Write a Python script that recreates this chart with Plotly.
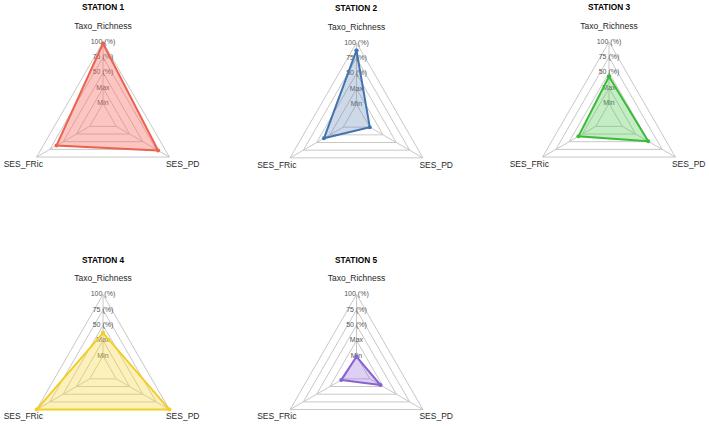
import numpy as np
import plotly.graph_objects as go

categories = ["Taxo_Richness", "SES_PD", "SES_FRic"]
stations = ["STATION 1", "STATION 2", "STATION 3", "STATION 4", "STATION 5"]
# values expressed as position on the radial scale (Min ring = 0.2, outer ring = 1.0)
taxo_richness = [0.98, 0.90, 0.55, 0.50, 0.19]
ses_pd = [0.83, 0.20, 0.59, 1.00, 0.36]
ses_fric = [0.70, 0.49, 0.46, 1.00, 0.23]
grid_levels = [0.2, 0.4, 0.6, 0.8, 1.0]
grid_labels = ["Min", "Max", "50 (%)", "75 (%)", "100 (%)"]

line_colors = ["rgb(236,98,78)", "rgb(66,116,176)", "rgb(58,188,58)",
               "rgb(242,206,38)", "rgb(136,98,210)"]
fill_colors = ["rgba(248,110,100,0.40)", "rgba(90,130,180,0.30)", "rgba(70,200,70,0.32)",
               "rgba(250,215,60,0.35)", "rgba(150,110,220,0.32)"]

W, H = 709, 426
R = 76.7
centers = [(103, 118.7), (356.5, 119.5), (609, 118.7), (103, 371.2), (356.5, 371.2)]
XL, XR, YB, YT = -1.3, 1.3, -0.7, 1.5

GRID = "rgb(200,200,200)"
FONT = "Liberation Sans, Arial, Helvetica, sans-serif"

# angles of the three axes: top, bottom-right, bottom-left (clockwise from top)
ang = np.deg2rad(90 - 120 * np.arange(len(categories)))
ux, uy = np.cos(ang), np.sin(ang)

fig = go.Figure()
annotations = []
layout_axes = {}

for i, name in enumerate(stations):
    cx, cy = centers[i]
    n = "" if i == 0 else str(i + 1)
    xa, ya = "x" + n, "y" + n
    x0, x1 = (cx + XL * R) / W, (cx + XR * R) / W
    y0, y1 = (H - (cy - YB * R)) / H, (H - (cy - YT * R)) / H
    layout_axes["xaxis" + n] = dict(domain=[x0, x1], range=[XL, XR], visible=False,
                                    fixedrange=True, anchor=ya)
    layout_axes["yaxis" + n] = dict(domain=[y0, y1], range=[YB, YT], visible=False,
                                    fixedrange=True, anchor=xa)

    # grid rings
    gx, gy = [], []
    for lv in grid_levels:
        gx += list(lv * ux) + [lv * ux[0], None]
        gy += list(lv * uy) + [lv * uy[0], None]
    fig.add_trace(go.Scatter(x=gx, y=gy, xaxis=xa, yaxis=ya, mode="lines",
                             line=dict(color=GRID, width=1), hoverinfo="skip",
                             showlegend=False, cliponaxis=False))
    # spokes
    sx, sy = [], []
    for k in range(len(categories)):
        sx += [grid_levels[0] * ux[k], grid_levels[-1] * ux[k], None]
        sy += [grid_levels[0] * uy[k], grid_levels[-1] * uy[k], None]
    fig.add_trace(go.Scatter(x=sx, y=sy, xaxis=xa, yaxis=ya, mode="lines",
                             line=dict(color=GRID, width=1), hoverinfo="skip",
                             showlegend=False, cliponaxis=False))
    # level labels along the top axis
    lv = np.array(grid_levels)
    fig.add_trace(go.Scatter(x=lv * ux[0], y=lv * uy[0], xaxis=xa, yaxis=ya, mode="text",
                             text=grid_labels, textposition="middle center",
                             textfont=dict(family=FONT, size=7, color="rgb(85,85,85)"),
                             hoverinfo="skip", showlegend=False, cliponaxis=False))
    # data polygon
    vals = np.array([taxo_richness[i], ses_pd[i], ses_fric[i]])
    px = list(vals * ux) + [vals[0] * ux[0]]
    py = list(vals * uy) + [vals[0] * uy[0]]
    fig.add_trace(go.Scatter(x=px, y=py, xaxis=xa, yaxis=ya, mode="lines+markers",
                             fill="toself", fillcolor=fill_colors[i],
                             line=dict(color=line_colors[i], width=2),
                             marker=dict(color=line_colors[i], size=4),
                             name=name, showlegend=False, cliponaxis=False))
    # category labels
    fig.add_trace(go.Scatter(x=1.2 * ux, y=1.2 * uy, xaxis=xa, yaxis=ya, mode="text",
                             text=categories, textposition="middle center",
                             textfont=dict(family=FONT, size=8.5, color="rgb(40,40,40)"),
                             hoverinfo="skip", showlegend=False, cliponaxis=False))
    annotations.append(dict(text="<b>" + name + "</b>", x=0, y=1.455, xref=xa, yref=ya,
                            xanchor="center", yanchor="middle", showarrow=False,
                            font=dict(family=FONT, size=8.3, color="black")))

fig.update_layout(width=W, height=H, margin=dict(l=0, r=0, t=0, b=0),
                  paper_bgcolor="white", plot_bgcolor="white",
                  annotations=annotations, showlegend=False, **layout_axes)

fig.write_html("out.html")
